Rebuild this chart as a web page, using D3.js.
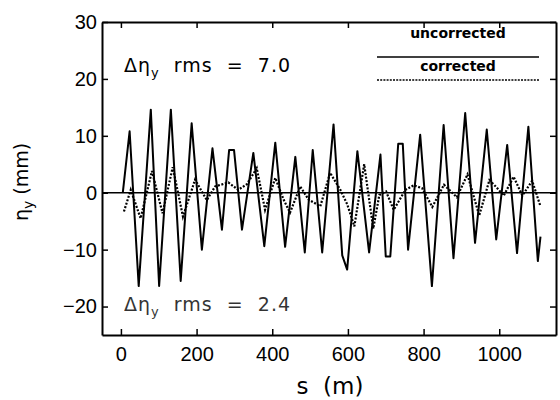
<!DOCTYPE html>
<html><head><meta charset="utf-8">
<script src="https://cdn.jsdelivr.net/npm/d3@7"></script>
<style>
html,body{margin:0;padding:0;background:#fff;}
svg{display:block;font-family:"DejaVu Sans",sans-serif;}
</style></head>
<body>
<svg id="chart" width="560" height="400"></svg>
<script>
// ---- data ----
const sUncorrected   = [5, 23, 47, 79, 101, 132, 158, 187, 214, 242, 267, 286, 299, 320, 350, 379, 408, 434, 461, 486, 507, 532, 562, 585, 598, 625, 656, 686, 700, 712, 733, 745, 759, 791, 822, 853, 879, 910, 936, 967, 992, 1021, 1047, 1077, 1102, 1109];
const etaUncorrected = [0, 10.8, -16.4, 14.6, -16.4, 14.6, -15.5, 12.2, -10, 7.8, -6.5, 7.5, 7.5, -6.5, 7.0, -9.4, 8.8, -9.5, 6.3, -10.5, 7.5, -10.5, 12, -11, -13.5, 7.3, -10.5, 6.7, -11.2, -11.2, 8.6, 8.6, -10, 10.2, -16.4, 11.9, -11.5, 14.0, -8.8, 11.1, -8.2, 8.4, -10.6, 11.6, -12, -7.7];
const sCorrected     = [8, 26, 52, 82, 110, 137, 164, 196, 227, 249, 284, 310, 333, 359, 381, 408, 430, 447, 474, 496, 527, 553, 580, 598, 617, 643, 667, 683, 701, 721, 752, 774, 796, 823, 854, 888, 916, 947, 974, 992, 1012, 1038, 1061, 1087, 1109];
const etaCorrected   = [-3.3, 0.5, -4.5, 3.8, -3.6, 4.5, -4.2, 2.3, -1.3, 1.1, 1.8, 0.5, 1.5, 4.3, -3, 2.6, -1.2, -3.5, 1.1, -1.2, -2.4, 3.5, 0.5, -2, -5.9, 5.0, -6.3, -0.4, 0.2, -3, 0.5, 1.3, 0.8, -2.5, 1.4, -0.8, 3.2, -4.0, 2.2, 1.0, -0.5, 2.8, -0.5, 2.1, -2.4];
const xTicks = [0, 200, 400, 600, 800, 1000];
const yTicks = [-20, -10, 0, 10, 20, 30];
const legendLabels = ["uncorrected", "corrected"];
const rmsLabels = ["7.0", "2.4"];

const svg = d3.select("#chart");
const x = d3.scaleLinear().domain([-50, 1150]).range([102, 556]);
const y = d3.scaleLinear().domain([-25, 30]).range([335, 22]);

// zero line
svg.append("line").attr("x1", x(-50)).attr("x2", x(1150))
  .attr("y1", y(0)).attr("y2", y(0)).attr("stroke", "#000").attr("stroke-width", 1.5);

const line = d3.line().x(d => x(d[0])).y(d => y(d[1]));
svg.append("path").datum(d3.zip(sUncorrected, etaUncorrected))
  .attr("d", line).attr("fill", "none").attr("stroke", "#000")
  .attr("stroke-width", 2).attr("stroke-linejoin", "round");
svg.append("path").datum(d3.zip(sCorrected, etaCorrected))
  .attr("d", line).attr("fill", "none").attr("stroke", "#000")
  .attr("stroke-width", 2.2).attr("stroke-dasharray", "2,1.6");

// axes with inward ticks
const tickStyle = g => {
  g.select(".domain").attr("stroke-width", 2);
  g.selectAll(".tick line").attr("stroke-width", 1.5);
};
svg.append("g").attr("transform", `translate(0,${y(-25)})`)
  .call(d3.axisBottom(x).tickValues(xTicks).tickFormat(d3.format("d")).tickSizeInner(-6).tickSizeOuter(0).tickPadding(12))
  .call(tickStyle)
  .call(g => g.selectAll("text").attr("font-size", 20).attr("fill", "#000"));
svg.append("g").attr("transform", `translate(0,${y(30)})`)
  .call(d3.axisTop(x).tickValues(xTicks).tickSizeInner(-6).tickSizeOuter(0).tickFormat(""))
  .call(tickStyle);
svg.append("g").attr("transform", `translate(${x(-50)},0)`)
  .call(d3.axisLeft(y).tickValues(yTicks).tickSizeInner(-6).tickSizeOuter(0).tickPadding(5))
  .call(tickStyle)
  .call(g => g.selectAll("text").attr("font-size", 20).attr("fill", "#000"));
svg.append("g").attr("transform", `translate(${x(1150)},0)`)
  .call(d3.axisRight(y).tickValues(yTicks).tickSizeInner(-6).tickSizeOuter(0).tickFormat(""))
  .call(tickStyle);

// axis titles
svg.append("text").attr("x", 330).attr("y", 394).attr("text-anchor", "middle")
  .attr("font-size", 23).attr("xml:space", "preserve").text("s  (m)");
const yl = svg.append("text").attr("transform", "translate(28,182) rotate(-90)")
  .attr("text-anchor", "middle").attr("font-size", 19);
yl.append("tspan").text("η");
yl.append("tspan").attr("dy", 5).attr("font-size", 14).text("y");
yl.append("tspan").attr("dy", -5).text(" (mm)");

// rms annotations
function rms(yPos, val, opacity) {
  const t = svg.append("text").attr("x", 124).attr("y", yPos).attr("font-size", 19)
    .attr("letter-spacing", 1).attr("fill", "#000").attr("opacity", opacity).attr("xml:space", "preserve");
  t.append("tspan").text("Δη");
  t.append("tspan").attr("dy", 5).attr("font-size", 13).text("y");
  t.append("tspan").attr("dy", -5).text("  rms  =  " + val);
}
rms(72, rmsLabels[0], 1);
rms(311, rmsLabels[1], 0.8);

// legend
svg.append("text").attr("x", 458).attr("y", 38).attr("text-anchor", "middle")
  .attr("font-size", 14).attr("font-weight", "bold").text(legendLabels[0]);
svg.append("line").attr("x1", 377).attr("x2", 539).attr("y1", 57).attr("y2", 57)
  .attr("stroke", "#000").attr("stroke-width", 1.6);
svg.append("text").attr("x", 458).attr("y", 71).attr("text-anchor", "middle")
  .attr("font-size", 14).attr("font-weight", "bold").text(legendLabels[1]);
svg.append("line").attr("x1", 377).attr("x2", 539).attr("y1", 80).attr("y2", 80)
  .attr("stroke", "#000").attr("stroke-width", 1.6).attr("stroke-dasharray", "2,1.2");
</script>
</body></html>
